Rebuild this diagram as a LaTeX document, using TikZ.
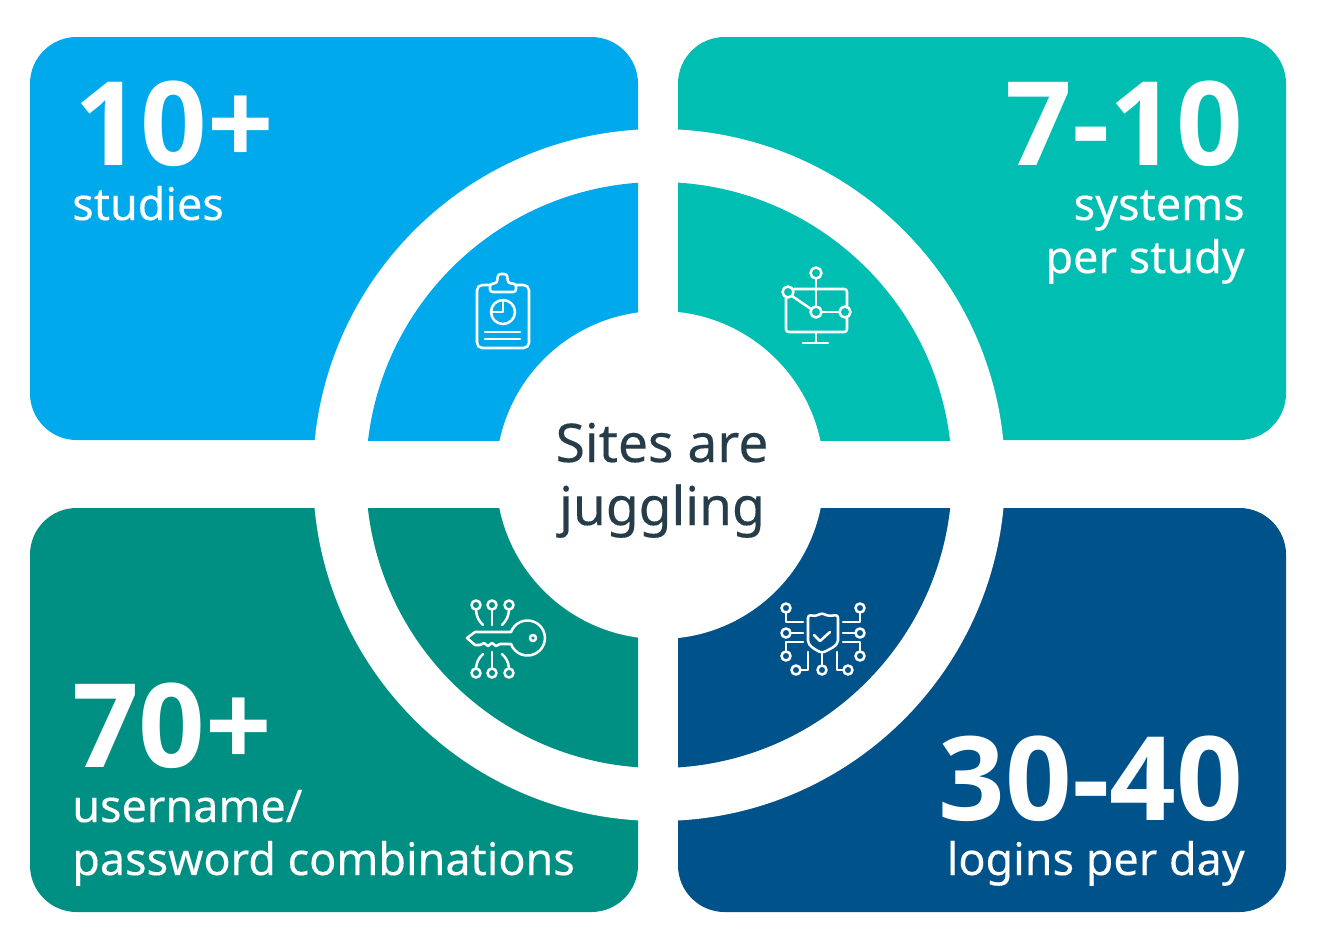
\documentclass[tikz,border=0pt]{standalone}
\usepackage{fontspec}
\setmainfont{Noto Sans}[FakeBold=0.25]
\newfontfamily\numfont{Open Sans}[BoldFont={* Bold}]
\definecolor{skyblue}{HTML}{00A9EC}
\definecolor{seagreen}{HTML}{00BFB2}
\definecolor{deepteal}{HTML}{008F83}
\definecolor{navyblue}{HTML}{00538A}
\definecolor{inktext}{HTML}{263C48}
\tikzset{
	card/.style = {rounded corners=35},
	bignum/.style = {text=white, font=\numfont\fontsize{87.5}{88}\bfseries\selectfont, inner sep=0pt},
	cardtext/.style = {text=white, font=\fontsize{33.7}{34}\selectfont, inner sep=0pt},
	centertext/.style = {text=inktext, font=\fontsize{40}{40}\selectfont, inner sep=0pt, anchor=base},
	iconline/.style = {white, line width=1.9pt, line join=round, line cap=round},
}

\begin{document}
\begin{tikzpicture}[x=0.75pt, y=-0.75pt]
		\useasboundingbox (0, 0) rectangle (1317, 951);
		\fill[card, skyblue] (30, 37) rectangle (638, 440);
		\fill[card, seagreen] (678, 37) rectangle (1286, 440);
		\fill[card, deepteal] (30, 508) rectangle (638, 912);
		\fill[card, navyblue] (678, 508) rectangle (1286, 912);
		\fill[white] (659, 475) circle[radius=346];
		% inner quarters
		\begin{scope}
			\clip (30, 37) rectangle (638, 440);
			\fill[skyblue] (659, 475) circle[radius=293];
		\end{scope}
		\begin{scope}
			\clip (678, 37) rectangle (1286, 440);
			\fill[seagreen] (659, 475) circle[radius=293];
		\end{scope}
		\begin{scope}
			\clip (30, 508) rectangle (638, 912);
			\fill[deepteal] (659, 475) circle[radius=293];
		\end{scope}
		\begin{scope}
			\clip (678, 508) rectangle (1286, 912);
			\fill[navyblue] (659, 475) circle[radius=293];
		\end{scope}
		\fill[white] (660, 475) circle[radius=164];
		% clipboard
		\draw[iconline, rounded corners=4] (490, 285) -- (477, 285) -- (477, 348) -- (529, 348) -- (529, 285) -- (516, 285);
		\draw[iconline, rounded corners=2] (490, 292) -- (490, 284) -- (497, 283) -- (498, 274) -- (507, 274) -- (508, 283) -- (516, 284) -- (516, 292) -- cycle;
		\draw[iconline] (503, 312) circle[radius=12];
		\draw[iconline] (503, 300) -- (503, 312) -- (491, 312);
		\draw[iconline] (485, 332) -- (520, 332);
		\draw[iconline] (485, 339) -- (520, 339);
		% monitor
		\draw[iconline, rounded corners=2] (794, 289) -- (847, 289) -- (847, 306);
		\draw[iconline, rounded corners=2] (847, 318) -- (847, 332) -- (786, 332) -- (786, 298);
		\draw[iconline] (816, 273) circle[radius=5.5];
		\draw[iconline] (816, 312) circle[radius=5.5];
		\draw[iconline] (845, 312) circle[radius=5.5];
		\draw[iconline] (788, 292) circle[radius=5.5];
		\draw[iconline] (816, 279) -- (816, 306);
		\draw[iconline] (792, 296) -- (811, 309);
		\draw[iconline] (822, 312) -- (839, 312);
		\draw[iconline] (816, 332) -- (816, 343);
		\draw[iconline] (803, 343) -- (828, 343);
		% key
		\draw[iconline] (533, 638) circle[radius=3];
		\draw[iconline] (511, 632) -- (475, 632) -- (467, 638) -- (475, 645) -- (480, 645) -- (484, 643) -- (488, 646) -- (492, 643) -- (496, 646) -- (500, 644) -- (511, 644);
		\draw[iconline] (511, 632) arc[start angle=200, end angle=520, radius=17.5];
		\foreach \px in {476, 492, 509} {
			\draw[iconline] (\px, 605) circle[radius=4.5];
			\draw[iconline] (\px, 673) circle[radius=4.5];
		}
		\draw[iconline] (492, 610) -- (492, 625);
		\draw[iconline] (492, 652) -- (492, 668);
		\draw[iconline] (476, 610) to[bend right=20] (483, 625);
		\draw[iconline] (509, 610) to[bend left=20] (502, 625);
		\draw[iconline] (483, 654) to[bend right=20] (476, 668);
		\draw[iconline] (502, 654) to[bend left=20] (509, 668);
		% shield
		\draw[iconline, rounded corners=2] (822, 613) -- (816, 616) -- (808, 615) -- (808, 638) .. controls (808, 646) and (816, 650) .. (822, 653) .. controls (828, 650) and (838, 646) .. (838, 638) -- (838, 615) -- (828, 616) -- cycle;
		\draw[iconline] (814, 635) -- (820, 641) -- (830, 632);
		\foreach \px in {786, 860} {
			\draw[iconline] (\px, 608) circle[radius=4.5];
			\draw[iconline] (\px, 633) circle[radius=4.5];
			\draw[iconline] (\px, 656) circle[radius=4.5];
		}
		\foreach \px in {796, 822, 848} {
			\draw[iconline] (\px, 670) circle[radius=4.5];
		}
		\draw[iconline] (786, 613) -- (786, 622) -- (803, 622);
		\draw[iconline] (791, 633) -- (803, 633);
		\draw[iconline] (786, 651) -- (786, 642) -- (803, 642);
		\draw[iconline] (860, 613) -- (860, 622) -- (843, 622);
		\draw[iconline] (855, 633) -- (843, 633);
		\draw[iconline] (860, 651) -- (860, 642) -- (843, 642);
		\draw[iconline] (808, 652) -- (808, 670) -- (801, 670);
		\draw[iconline] (822, 654) -- (822, 665);
		\draw[iconline] (837, 652) -- (837, 670) -- (843, 670);
		% texts
		\node[bignum, anchor=base west] (studiesnum) at (74, 165) {10+};
		\node[cardtext, anchor=base west] (studies) at (72, 220) {studies};
		\node[bignum, anchor=base east] (systemsnum) at (1243, 165) {7-10};
		\node[cardtext, anchor=base east] (systems) at (1245, 220) {systems};
		\node[cardtext, anchor=base east] (perstudy) at (1245, 273) {per study};
		\node[bignum, anchor=base west] (combosnum) at (72, 767) {70+};
		\node[cardtext, anchor=base west] (username) at (72, 822) {username/};
		\node[cardtext, anchor=base west] (password) at (72, 875) {password combinations};
		\node[bignum, anchor=base east] (loginsnum) at (1243, 820) {30-40};
		\node[cardtext, anchor=base east] (logins) at (1245, 875) {logins per day};
		\node[centertext] (sites) at (662, 462) {Sites are};
		\node[centertext] (juggling) at (662, 525) {juggling};
	\end{tikzpicture}
\end{document}
